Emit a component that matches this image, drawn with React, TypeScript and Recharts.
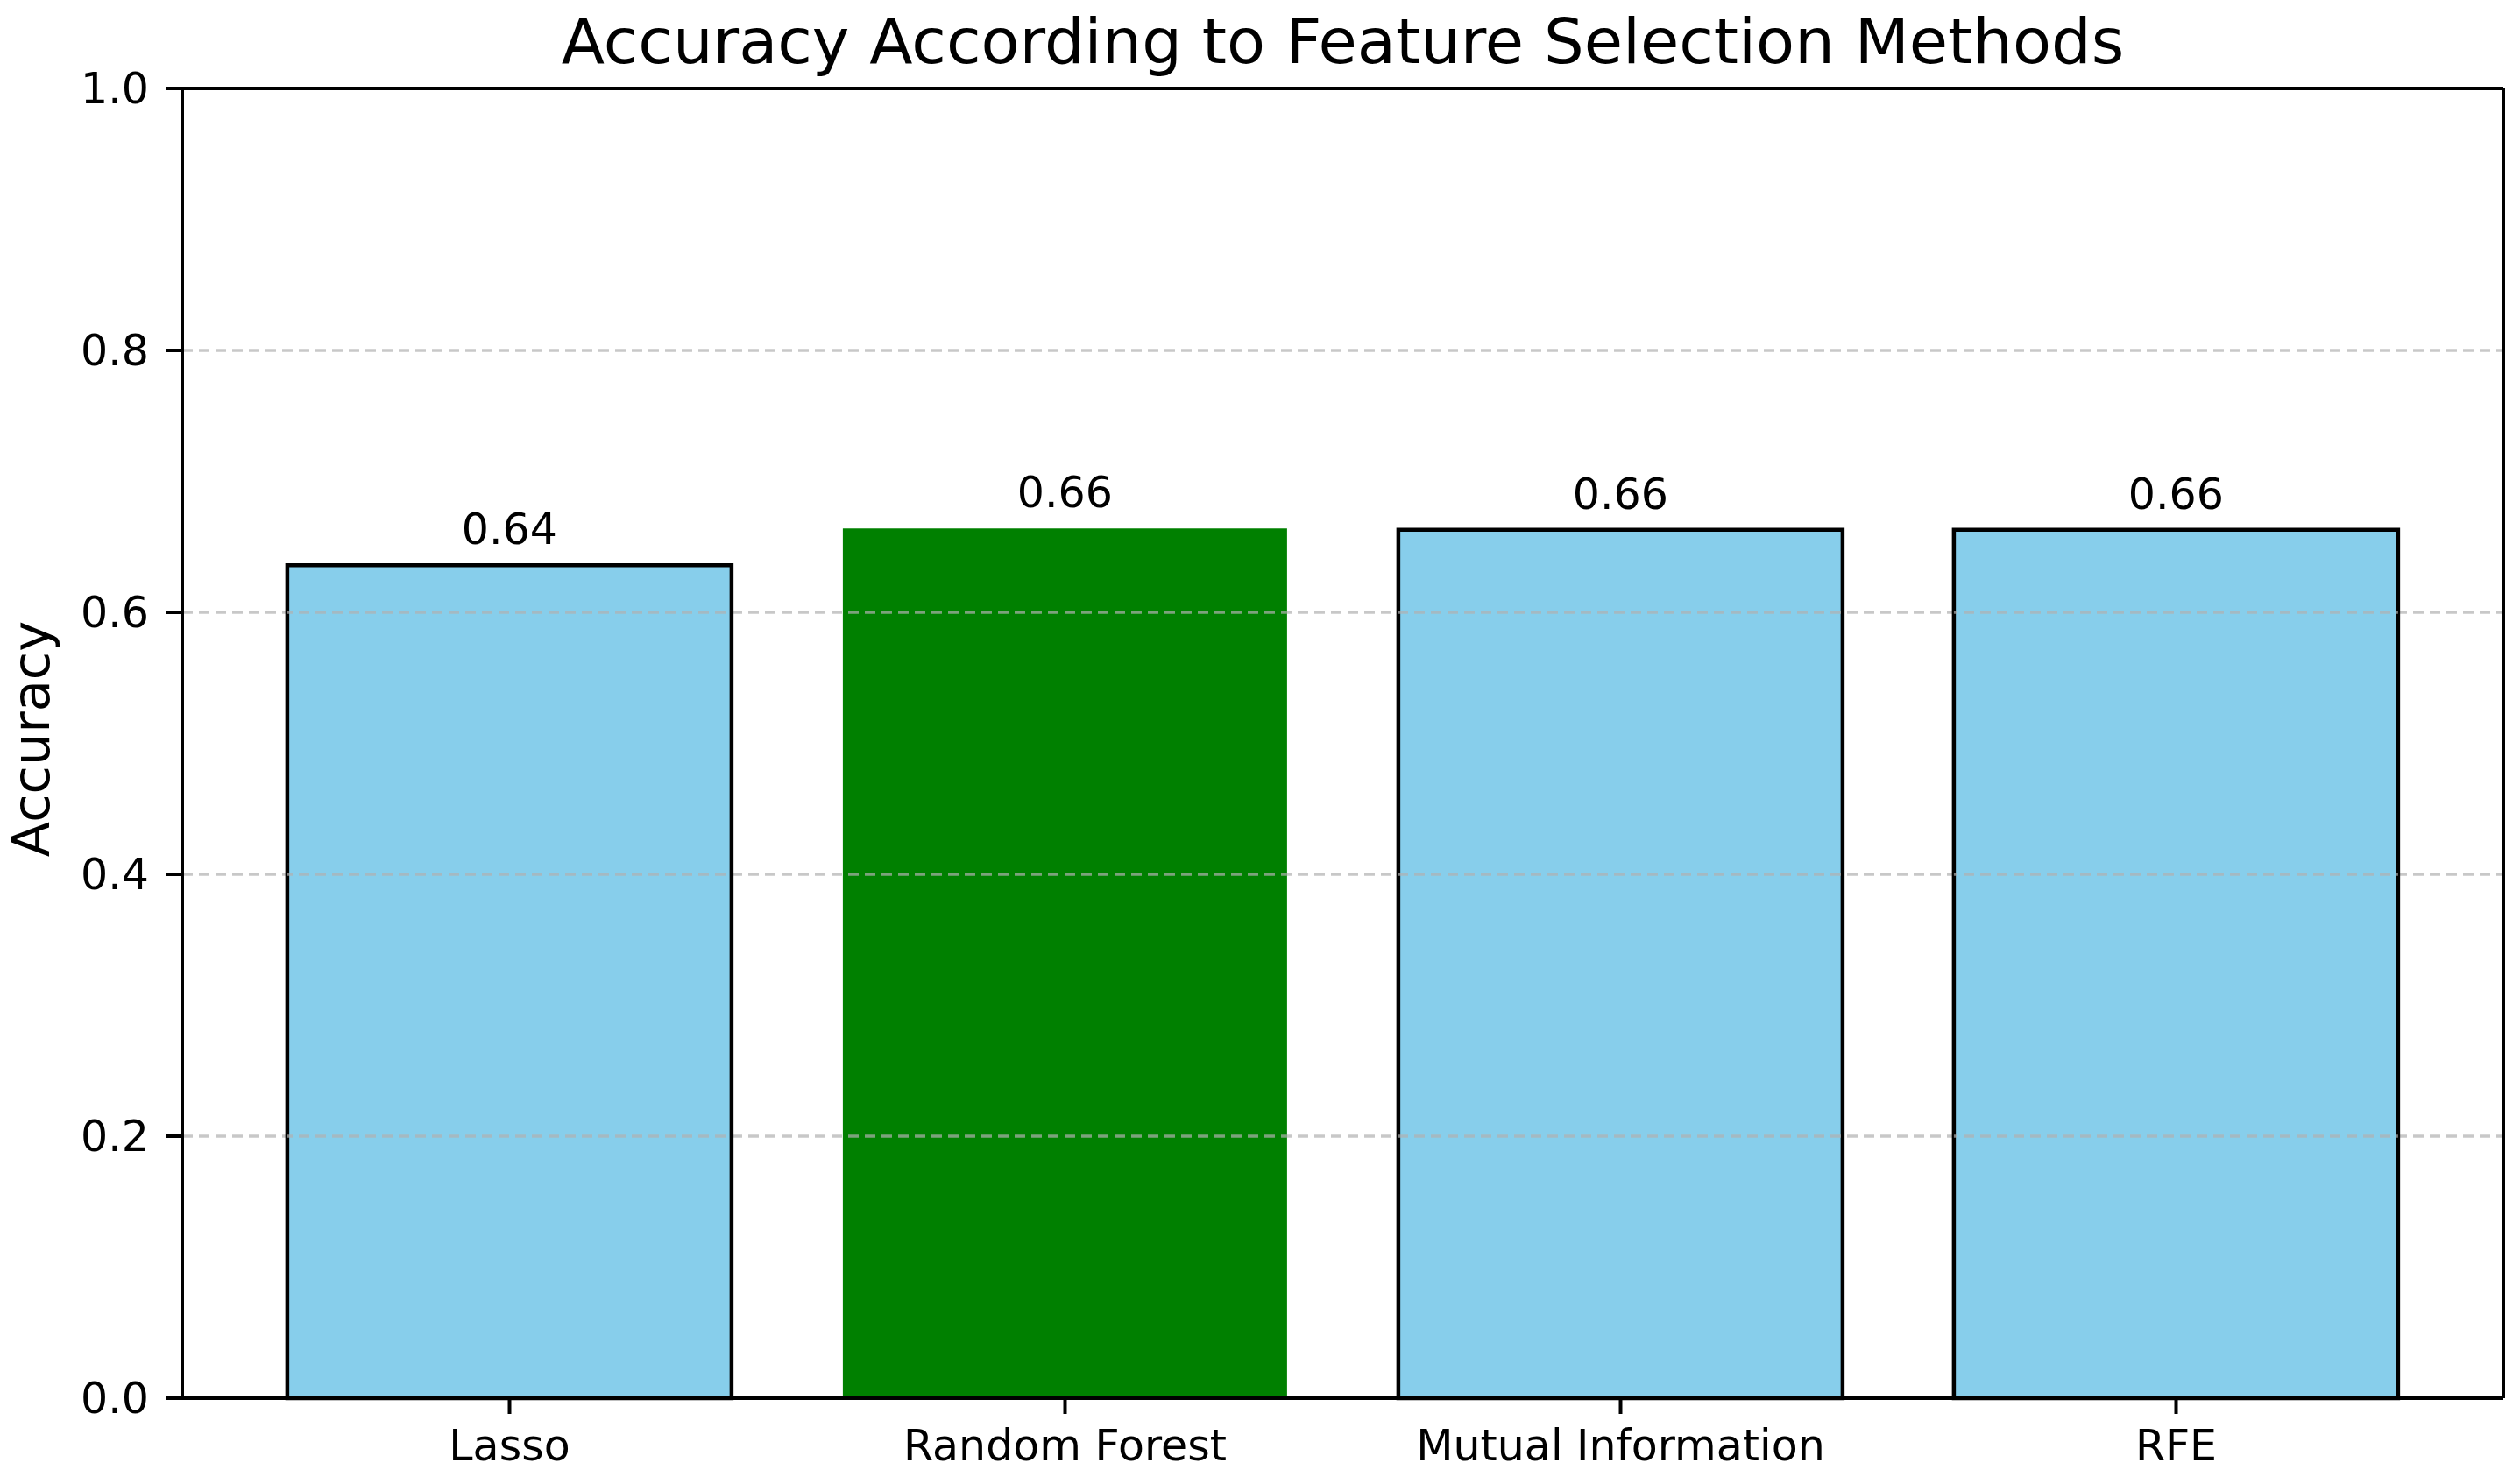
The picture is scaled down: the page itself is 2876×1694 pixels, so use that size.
import { Bar, BarChart, CartesianGrid, Cell, LabelList, XAxis, YAxis } from "recharts"

const methods = ["Lasso", "Random Forest", "Mutual Information", "RFE"]
const accuracy = [0.636, 0.664, 0.663, 0.663]
const highlighted = "Random Forest"
const yTicks = [0, 0.2, 0.4, 0.6, 0.8, 1.0]
const gridValues = [0.2, 0.4, 0.6, 0.8]

const title = "Accuracy According to Feature Selection Methods"
const font = "DejaVu Sans"

const chartData = methods.map((m, i) => ({ method: m, value: accuracy[i] }))

const W = 2876
const H = 1694
const plotLeft = 208
const axisStroke = { stroke: "#000", strokeWidth: 4 }
const gridStyle = {
  stroke: "#b0b0b0",
  strokeOpacity: 0.7,
  strokeWidth: 3.5,
  strokeDasharray: "12 7",
}

function TitleLabel(p: any) {
  const vb = p.viewBox || { x: 208, y: 100, width: 2649 }
  return (
    <text x={vb.x + vb.width / 2} y={72} textAnchor="middle" fontSize={72} fontFamily={font} fill="#000">
      {title}
    </text>
  )
}

function YLabel(p: any) {
  const vb = p.viewBox || { y: 101, height: 1495 }
  const cy = vb.y + vb.height / 2 - 5
  return (
    <text
      x={56}
      y={cy}
      transform={`rotate(-90 56 ${cy})`}
      textAnchor="middle"
      fontSize={59}
      fontFamily={font}
      fill="#000"
    >
      Accuracy
    </text>
  )
}

// labels are drawn after the bars, so the grid pieces crossing each bar go here
function GridOverBar(p: any) {
  const vb = p.viewBox && p.viewBox.width != null ? p.viewBox : p
  const x = Number(vb.x)
  const y = Number(vb.y)
  const width = Number(vb.width)
  const height = Number(vb.height)
  let value = typeof p.index === "number" ? accuracy[p.index] : NaN
  if (!Number.isFinite(value)) {
    const raw = Array.isArray(p.value) ? p.value[1] : p.value
    value = Number(raw)
  }
  if (![x, y, width, height, value].every(Number.isFinite) || value <= 0) return null
  const bottom = y + height
  const perUnit = height / value
  return (
    <g>
      {gridValues
        .filter((v) => v < value)
        .map((v) => (
          <line
            key={v}
            x1={x}
            x2={x + width}
            y1={bottom - v * perUnit}
            y2={bottom - v * perUnit}
            strokeDashoffset={x - plotLeft}
            {...gridStyle}
          />
        ))}
    </g>
  )
}

export default function App() {
  return (
    <div style={{ position: "absolute", left: 0, top: 0, width: W, height: H, background: "#fff" }}>
      <BarChart
        width={W}
        height={H}
        data={chartData}
        margin={{ top: 100, right: 18, bottom: 0, left: 0 }}
        barCategoryGap="10%"
      >
        <CartesianGrid vertical={false} horizontalValues={gridValues} {...gridStyle} />
        <XAxis
          dataKey="method"
          height={98}
          padding={{ left: 56.5, right: 56.5 }}
          axisLine={axisStroke}
          tickLine={axisStroke}
          tickSize={18}
          tickMargin={18}
          tick={{ fontSize: 49, fill: "#000", fontFamily: font }}
          interval={0}
        />
        <XAxis
          xAxisId="top"
          dataKey="method"
          orientation="top"
          height={1}
          tick={false}
          tickLine={false}
          axisLine={axisStroke}
          label={{ content: TitleLabel }}
        />
        <YAxis
          width={plotLeft}
          domain={[0, 1]}
          ticks={yTicks}
          interval={0}
          tickFormatter={(v: number) => v.toFixed(1)}
          axisLine={axisStroke}
          tickLine={axisStroke}
          tickSize={18}
          tickMargin={20}
          tick={{ fontSize: 49, fill: "#000", fontFamily: font }}
          label={{ content: YLabel }}
        />
        <YAxis
          yAxisId="right"
          orientation="right"
          width={1}
          domain={[0, 1]}
          tick={false}
          tickLine={false}
          axisLine={axisStroke}
        />
        <Bar dataKey="value" isAnimationActive={false}>
          {chartData.map((d) => (
            <Cell
              key={d.method}
              fill={d.method === highlighted ? "#008000" : "#87CEEB"}
              stroke={d.method === highlighted ? "none" : "#000"}
              strokeWidth={4.5}
            />
          ))}
          <LabelList dataKey="value" content={GridOverBar} />
          <LabelList
            dataKey="value"
            position="top"
            offset={24}
            formatter={(v: any) => Number(v).toFixed(2)}
            fill="#000"
            fontSize={49}
            fontFamily={font}
          />
        </Bar>
      </BarChart>
    </div>
  )
}
